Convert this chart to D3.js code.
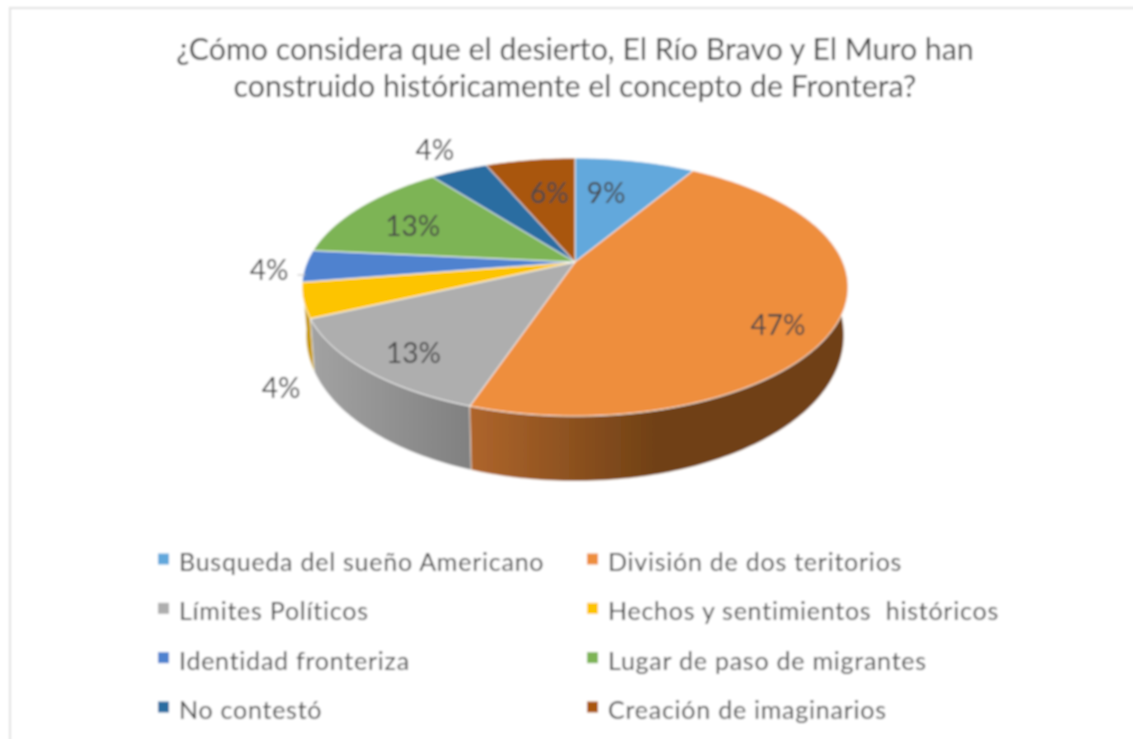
<!DOCTYPE html>
<html><head><meta charset="utf-8">
<script src="https://cdn.jsdelivr.net/npm/d3@7"></script>
<style>html,body{margin:0;padding:0;background:#fff;overflow:hidden}svg{display:block}text{font-family:Lato,"Open Sans",sans-serif;fill:#484848}</style>
</head><body><div id="chart"></div>
<script>
const titleLines = ["¿Cómo considera que el desierto, El Río Bravo y El Muro han","construido históricamente el concepto de Frontera?"];
const categories = ["Busqueda del sueño Americano","División de dos teritorios","Límites Políticos","Hechos y sentimientos  históricos","Identidad fronteriza","Lugar de paso de migrantes","No contestó","Creación de imaginarios"];
const values = [8.6,46.6,12.9,4.4,4.0,13.0,4.1,6.4];
const colors = ["#62a8dc","#ee8e3d","#aeaeae","#fdc400","#4f82cf","#7db455","#2a6da1","#a9560b"];
const labelRadius = [0.64,0.83,0.83,1.25,1.13,0.71,1.27,0.63];
const labelTurn = [-3.7,8.9,-2.4,-25.9,-1.4,-3.4,0.4,1.7];

const W=1133,H=739;
const svg=d3.select("#chart").append("svg").attr("width",W).attr("height",H);
const defs=svg.append("defs");
defs.append("filter").attr("id","soft").attr("x","-5%").attr("y","-5%").attr("width","110%").attr("height","110%")
  .append("feGaussianBlur").attr("stdDeviation",0.95);
const root=svg.append("g").attr("filter","url(#soft)");
root.append("rect").attr("x",10).attr("y",8).attr("width",W+20).attr("height",H+20).attr("fill","#fff").attr("stroke","#e2e2e2").attr("stroke-width",2);

// perspective projection of the unit disc
const ax=575,ay=262,A=267.8,B=124.2,k=0.194;
const proj=(ang,r=1)=>{const u=r*Math.sin(ang),v=r*Math.cos(ang),w=1+k*v;return [ax+A*u/w,ay-B*v/w];};
const lower=(ang)=>{const [x,y]=proj(ang),v=Math.cos(ang);return [ax+0.985*(x-ax),y+44-21*v];};
const arcs=d3.pie().sort(null).value(d=>d)(values);
const step=Math.PI/180;
const samples=(a,b)=>{const s=d3.range(a,b,step);s.push(b);return s;};
const line=d3.line();

// side wall
const sideDefs=[{i:1,from:"#b0662c",to:"#6f4015",x1:465,x2:660},{i:2,from:"#a2a2a2",to:"#808080",x1:312,x2:472},{i:3,from:"#c79a00",to:"#c79a00",x1:300,x2:320}];
sideDefs.forEach(s=>{const g=defs.append("linearGradient").attr("id","side"+s.i).attr("gradientUnits","userSpaceOnUse").attr("x1",s.x1).attr("x2",s.x2).attr("y1",0).attr("y2",0);
  g.append("stop").attr("offset",0).attr("stop-color",s.from);g.append("stop").attr("offset",1).attr("stop-color",s.to);});
const front=[3,2,1];
front.forEach(i=>{const d=arcs[i];const a=samples(Math.max(d.startAngle,Math.PI*0.35),d.endAngle);
  const pts=a.map(t=>proj(t)).concat(a.slice().reverse().map(t=>lower(t)));
  root.append("path").attr("d",line(pts)+"Z").attr("fill",`url(#side${i})`).attr("stroke","#fff").attr("stroke-width",0.5);
});

// top face
root.selectAll("path.slice").data(arcs).join("path").attr("class","slice")
  .attr("d",d=>line([[ax,ay],...samples(d.startAngle,d.endAngle).map(t=>proj(t))])+"Z")
  .attr("fill",(d,i)=>colors[i]).attr("stroke","#fff").attr("stroke-width",0.8).attr("stroke-linejoin","round");

// leader for the small label
const mid=d=>(d.startAngle+d.endAngle)/2;
const lp=(d,i)=>proj(mid(d)+labelTurn[i]*step,labelRadius[i]);
const li=4;
root.append("line").attr("x1",proj(mid(arcs[li]),1.0)[0]).attr("y1",proj(mid(arcs[li]),1.0)[1]+9).attr("x2",proj(mid(arcs[li]),1.03)[0]).attr("y2",proj(mid(arcs[li]),1.0)[1]+9).attr("stroke","#bbb").attr("stroke-width",1);

root.selectAll("text.lab").data(arcs).join("text").attr("class","lab")
  .attr("x",(d,i)=>lp(d,i)[0]).attr("y",(d,i)=>lp(d,i)[1]).attr("dy","0.36em").attr("text-anchor","middle")
  .attr("font-size",28).text(d=>d3.format(".0f")(d.value)+"%");

// title
root.selectAll("text.title").data(titleLines).join("text").attr("class","title")
  .attr("x",575).attr("y",(d,i)=>60+i*37).attr("text-anchor","middle").attr("font-size",30.3).text(d=>d);

// legend
const col=d3.scalePoint().domain([0,1]).range([158,587]);
const row=d3.scalePoint().domain([0,1,2,3]).range([559,707]);
const leg=root.selectAll("g.leg").data(categories).join("g").attr("class","leg")
  .attr("transform",(d,i)=>`translate(${col(i%2)},${row(Math.floor(i/2))})`);
leg.append("rect").attr("x",0).attr("y",-5.5).attr("width",11).attr("height",11).attr("fill",(d,i)=>colors[i]);
leg.append("text").attr("x",21).attr("y",12).attr("font-size",25).attr("letter-spacing",0.76).style("white-space","pre").text(d=>d);
</script></body></html>
